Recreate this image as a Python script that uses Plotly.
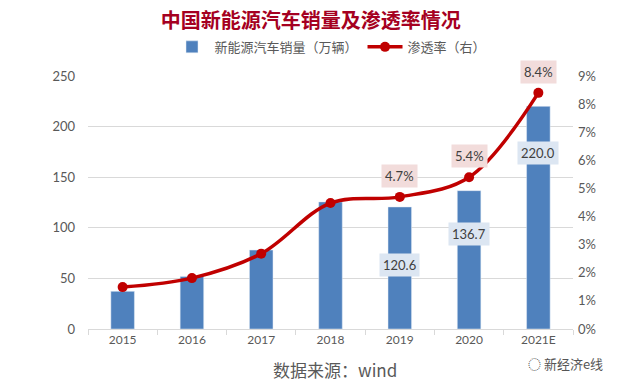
import plotly.graph_objects as go

years = ["2015", "2016", "2017", "2018", "2019", "2020", "2021E"]
sales = [37.2, 52.0, 78.0, 125.6, 120.6, 136.7, 220.0]
penetration = [0.0149, 0.0181, 0.0268, 0.0448, 0.047, 0.054, 0.084]
sales_labels = ["", "", "", "", "120.6", "136.7", "220.0"]
pen_labels = ["", "", "", "", "4.7%", "5.4%", "8.4%"]

CJK = "Noto Sans CJK SC"
NUM = "Lato, Noto Sans CJK SC"
GRAY = "#595959"
BLUE = "#4F81BD"
RED = "#C00000"

fig = go.Figure()
fig.add_trace(go.Bar(x=years, y=sales, name="新能源汽车销量（万辆）",
                     marker=dict(color=BLUE), width=0.34, yaxis="y"))
fig.add_trace(go.Scatter(x=years, y=penetration, name="渗透率（右）", yaxis="y2",
                         mode="lines+markers",
                         line=dict(color=RED, width=3.5, shape="spline", smoothing=1.0),
                         marker=dict(color=RED, size=10)))

annotations = []
bar_offsets = [0, 0, 0, 0, -58, -43, -47]
for i, (v, t, off) in enumerate(zip(sales, sales_labels, bar_offsets)):
    if t:
        annotations.append(dict(x=i, y=v, xref="x", yref="y", text=t, showarrow=False,
                                yshift=off, bgcolor="#DCE6F2", borderpad=3,
                                font=dict(family=NUM, size=13, color="#404040")))
for i, (v, t) in enumerate(zip(penetration, pen_labels)):
    if t:
        annotations.append(dict(x=i, y=v, xref="x", yref="y2", text=t, showarrow=False,
                                yshift=21, bgcolor="#F2DCDB", borderpad=3,
                                font=dict(family=NUM, size=13, color="#404040")))
annotations.append(dict(x=0.509, y=-0.162, xref="paper", yref="paper", xanchor="center",
                        yanchor="middle", text="数据来源：wind", showarrow=False,
                        font=dict(family=CJK, size=17, color=GRAY)))
annotations.append(dict(x=1.065, y=-0.135, xref="paper", yref="paper", xanchor="right",
                        yanchor="middle", text="◌ 新经济e线", showarrow=False,
                        font=dict(family=CJK, size=13, color="#555555")))

fig.update_layout(
    width=623, height=384,
    margin=dict(l=80, r=58, t=68, b=63),
    paper_bgcolor="white", plot_bgcolor="white",
    title=dict(text="<b>中国新能源汽车销量及渗透率情况</b>", x=0.486, xanchor="center",
               y=0.965, yanchor="middle",
               font=dict(family=CJK, size=20, color="#A50021")),
    legend=dict(orientation="h", x=0.5, xanchor="center", y=1.115, yanchor="middle",
                font=dict(family=CJK, size=13, color=GRAY), traceorder="normal",
                itemwidth=35),
    xaxis=dict(type="category", range=[-0.5, 6.5], tickson="boundaries", ticks="outside",
               ticklen=5, tickcolor="#D9D9D9", showline=True, linecolor="#D9D9D9",
               tickfont=dict(family=NUM, size=12, color=GRAY), showgrid=False),
    yaxis=dict(range=[0, 250], dtick=50, showgrid=True, gridcolor="#D9D9D9", zeroline=False,
               tickfont=dict(family=NUM, size=13, color=GRAY), ticklabelstandoff=12),
    yaxis2=dict(range=[0, 0.09], dtick=0.01, tickformat=".0%", overlaying="y", side="right",
                showgrid=False, zeroline=False, ticks="", ticklabelstandoff=4,
                tickfont=dict(family=NUM, size=13, color=GRAY)),
    annotations=annotations,
)

fig.write_html("out.html")
